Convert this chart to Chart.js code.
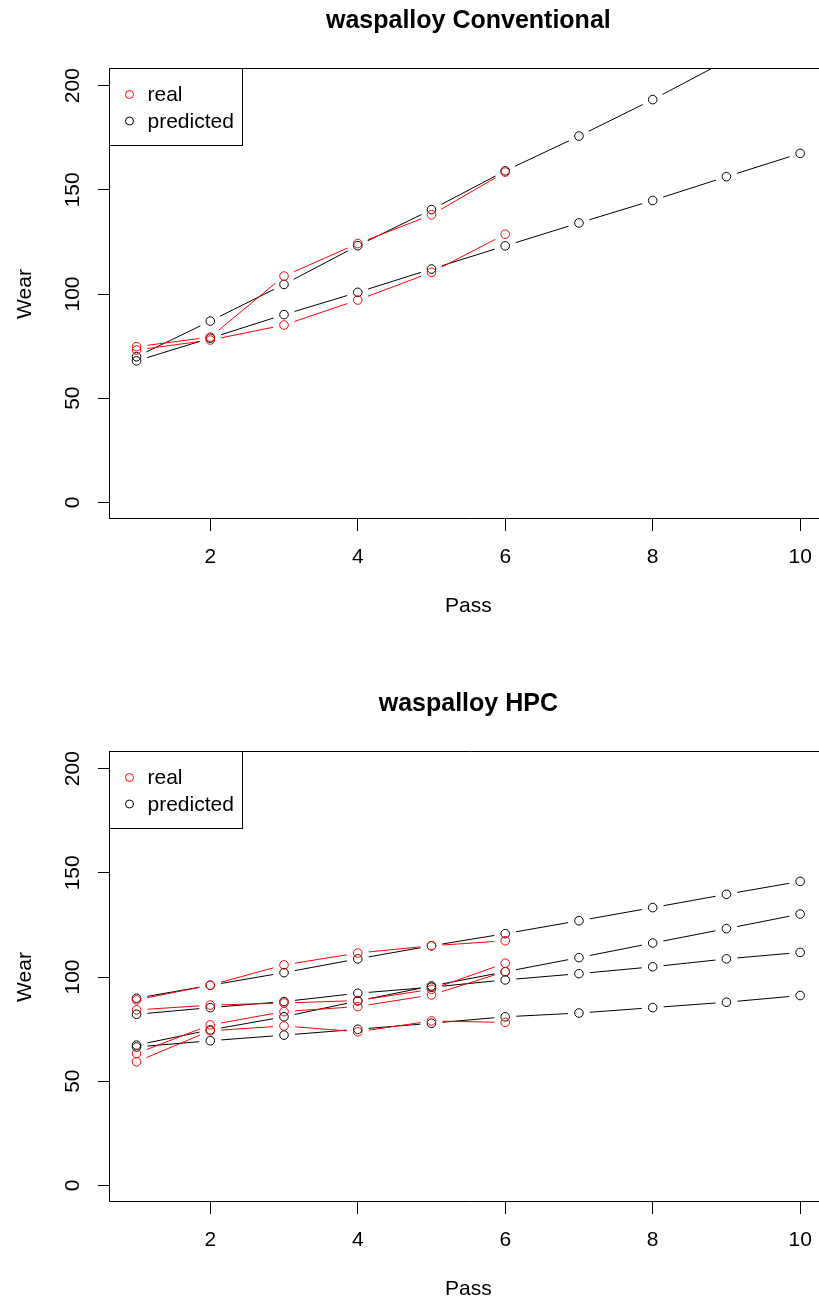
<!DOCTYPE html>
<html>
<head>
<meta charset="utf-8">
<script src="https://cdn.jsdelivr.net/npm/chart.js@4"></script>
<style>
  html, body { margin: 0; padding: 0; background: #fff; overflow: hidden; width: 819px; height: 1304px; }
  canvas { position: absolute; left: 0; }
  #conv { top: 0; }
  #hpc { top: 683px; }
</style>
</head>
<body>
<canvas id="conv" width="832" height="621"></canvas>
<canvas id="hpc" width="832" height="621"></canvas>
<script>
// data
const passes = [1, 2, 3, 4, 5, 6, 7, 8, 9, 10];
const xTicks = [2, 4, 6, 8, 10];
const yTicks = [0, 50, 100, 150, 200];
const legendLabels = ['real', 'predicted'];

// waspalloy Conventional
const convReal1 = [74.7, 79.3, 108.6, 124.2, 138.0, 158.5];
const convReal2 = [73.1, 77.9, 85.1, 97.1, 110.4, 128.7];
const convPred1 = [69.9, 87.0, 104.6, 123.2, 140.5, 159.1, 175.8, 193.3, 212.0];
const convPred2 = [67.9, 78.8, 90.1, 100.8, 112.0, 123.1, 134.1, 144.9, 156.3, 167.5];

// waspalloy HPC
const hpcReal1 = [89.0, 96.1, 105.8, 111.5, 115.0, 117.4];
const hpcReal2 = [84.2, 86.5, 87.5, 88.7, 94.1, 106.6];
const hpcReal3 = [63.3, 77.0, 83.4, 85.8, 91.4, 102.6];
const hpcReal4 = [59.3, 74.2, 76.5, 73.7, 78.9, 78.2];
const hpcPred1 = [89.8, 96.0, 102.1, 108.7, 115.0, 120.8, 127.0, 133.3, 139.7, 145.9];
const hpcPred2 = [67.3, 74.6, 80.9, 88.5, 95.7, 102.5, 109.3, 116.3, 123.2, 130.2];
const hpcPred3 = [82.1, 85.3, 88.2, 92.2, 95.1, 98.6, 101.6, 104.9, 108.7, 111.8];
const hpcPred4 = [66.4, 69.4, 72.1, 74.9, 77.8, 80.9, 82.7, 85.3, 87.9, 91.1];

const RED = '#ff0000';
const BLACK = '#000000';
const FONT = 'Liberation Sans, Arial, sans-serif';
const GAP = 11; // R type="b" leaves a gap round each point

function toPoints(values) {
    return values.map((v, i) => ({ x: passes[i], y: v }));
}

function segLen(ctx) {
    return Math.hypot(ctx.p1.x - ctx.p0.x, ctx.p1.y - ctx.p0.y);
}

function series(values, color) {
    return {
        data: toPoints(values),
        borderColor: color,
        borderWidth: 1,
        pointStyle: 'circle',
        pointRadius: 4.3,
        pointHoverRadius: 4.3,
        pointBorderWidth: 1,
        pointBorderColor: color,
        pointBackgroundColor: 'rgba(0,0,0,0)',
        tension: 0,
        fill: false,
        segment: {
            borderDash: ctx => {
                const L = segLen(ctx);
                return L > 2 * GAP ? [L - 2 * GAP, 2 * GAP] : [0, L + 1];
            },
            borderDashOffset: ctx => segLen(ctx) - GAP + ctx.p0DataIndex * 1e-3
        }
    };
}

const rFrame = {
    id: 'rFrame',
    afterDraw(chart, args, opts) {
        const ctx = chart.ctx;
        const a = chart.chartArea;
        const l = Math.round(a.left) - 0.5;
        const t = Math.round(a.top) - 0.5;
        const b = Math.round(a.bottom) - 0.5;
        ctx.save();
        ctx.strokeStyle = BLACK;
        ctx.lineWidth = 1;
        ctx.beginPath();
        ctx.moveTo(a.right + 5, t);
        ctx.lineTo(l, t);
        ctx.lineTo(l, b);
        ctx.lineTo(a.right + 5, b);
        ctx.stroke();

        // title
        ctx.fillStyle = BLACK;
        ctx.font = 'bold 25px ' + FONT;
        ctx.textAlign = 'center';
        ctx.textBaseline = 'middle';
        ctx.fillText(opts.title, (a.left + a.right) / 2, 21);

        // legend box, top left of plot
        const w = 133, h = 77;
        ctx.fillStyle = '#fff';
        ctx.fillRect(l, t, w, h);
        ctx.strokeRect(l, t, w, h);
        ctx.font = '21px ' + FONT;
        ctx.textAlign = 'left';
        const colors = [RED, BLACK];
        legendLabels.forEach((label, i) => {
            const y = t + 26 + i * 26.5;
            ctx.strokeStyle = colors[i];
            ctx.beginPath();
            ctx.arc(l + 20, y, 4, 0, Math.PI * 2);
            ctx.stroke();
            ctx.fillStyle = BLACK;
            ctx.fillText(label, l + 38, y + 1);
        });
        ctx.restore();
    }
};

function makeChart(id, title, reals, preds) {
    const font = { family: FONT, size: 21 };
    const datasets = reals.map(r => series(r, RED)).concat(preds.map(p => series(p, BLACK)));
    return new Chart(document.getElementById(id), {
        type: 'line',
        data: { datasets: datasets },
        options: {
            responsive: false,
            animation: false,
            devicePixelRatio: 1,
            events: [],
            layout: { padding: { top: 69, left: 0, right: 3, bottom: 0 } },
            plugins: {
                legend: { display: false },
                tooltip: { enabled: false },
                rFrame: { title: title }
            },
            scales: {
                x: {
                    type: 'linear',
                    min: 0.64,
                    max: 10.36,
                    afterBuildTicks: s => { s.ticks = xTicks.map(v => ({ value: v })); },
                    afterFit: s => { s.height = 102; },
                    grid: { drawOnChartArea: false, drawTicks: true, tickLength: 12, color: BLACK, tickColor: BLACK },
                    border: { display: false },
                    ticks: { color: BLACK, font: font, padding: 14, autoSkip: false, maxRotation: 0 },
                    title: { display: true, text: 'Pass', color: BLACK, font: font, padding: { top: 0, bottom: 2 } }
                },
                y: {
                    type: 'linear',
                    min: -8,
                    max: 208,
                    afterBuildTicks: s => { s.ticks = yTicks.map(v => ({ value: v })); },
                    afterFit: s => { s.width = 110; },
                    grid: { drawOnChartArea: false, drawTicks: true, tickLength: 12, color: BLACK, tickColor: BLACK },
                    border: { display: false },
                    ticks: { color: BLACK, font: font, padding: 7, autoSkip: false, minRotation: 90, maxRotation: 90, crossAlign: 'center' },
                    title: { display: true, text: 'Wear', color: BLACK, font: font, padding: { top: 13, bottom: 0 } }
                }
            }
        },
        plugins: [rFrame]
    });
}

makeChart('conv', 'waspalloy Conventional', [convReal1, convReal2], [convPred1, convPred2]);
makeChart('hpc', 'waspalloy HPC', [hpcReal1, hpcReal2, hpcReal3, hpcReal4], [hpcPred1, hpcPred2, hpcPred3, hpcPred4]);
</script>
</body>
</html>
